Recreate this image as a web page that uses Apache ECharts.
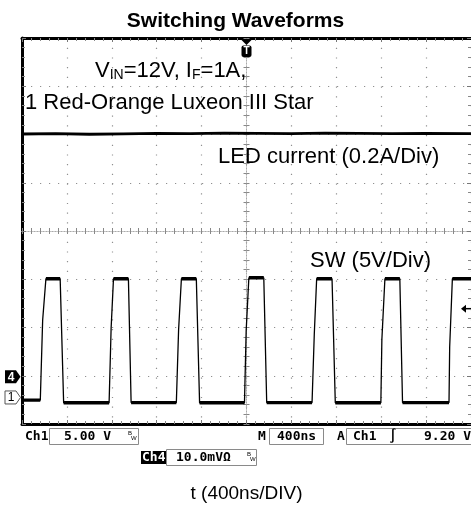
<!DOCTYPE html>
<html><head><meta charset="utf-8">
<script src="https://cdn.jsdelivr.net/npm/echarts@6/dist/echarts.min.js"></script>
<style>html,body{margin:0;padding:0;background:#fff}#c{width:471px;height:508px}</style>
</head><body><div id="c"></div>
<script>
// ---------- data ----------
const timeRangeNs = [-2000, 2000];      // 10 div x 400 ns, trigger at centre
const timePerDivNs = 400;
const divRange = [-4, 4];               // 8 vertical divisions
const ch1VoltsPerDiv = 5;               // SW (5V/Div)
const ch4AmpsPerDiv = 0.2;              // LED current (0.2A/Div)
const ch1GroundDiv = -3.45;             // "1" marker
const ch4GroundDiv = -3.02;             // "4" marker
const triggerLevelV = 9.2;

// SW node pulses (ns)
const swRiseStartNs = [-1837, -1224, -625, -18, 584, 1197, 1804];
const swRiseKneeNs  = [-1816, -1206, -605, -3, 604, 1206, 1810];
const swRiseEndNs   = [-1787, -1185, -580, 21, 625, 1233, 1834];
const swFallStartNs = [-1660, -1052, -447, 154, 762, 1366, null];
const swFallEndNs   = [-1629, -1028, -418, 180, 791, 1390, null];
const swHighV = [12.3, 12.3, 12.3, 12.4, 12.3, 12.3, 12.3];
const swKneeV = [8.0, 7.2, 7.0, 6.9, 6.6, 6.0, 5.2];
const swLowV  = [-0.28, -0.55, -0.53, -0.55, -0.53, -0.55, -0.53]; // level before each pulse

// LED current (A)
const ledTimeNs  = [-2000, -1700, -1400, -1100, -800, -500, -200, 100, 400, 700, 1000, 1300, 1600, 2000];
const ledCurrentA = [1.006, 1.008, 1.005, 1.007, 1.009, 1.008, 1.010, 1.009, 1.008, 1.010, 1.009, 1.008, 1.009, 1.008];

// ---------- build series ----------
const v2div = v => ch1GroundDiv + v / ch1VoltsPerDiv;
const a2div = a => ch4GroundDiv + a / ch4AmpsPerDiv;

const swPts = [[timeRangeNs[0], v2div(swLowV[0])]];
const swFlat = [[timeRangeNs[0], v2div(swLowV[0])]];
for (let i = 0; i < swRiseStartNs.length; i++) {
  swPts.push([swRiseStartNs[i], v2div(swLowV[i])]);
  swFlat.push([swRiseStartNs[i], v2div(swLowV[i])], [swRiseStartNs[i], null]);
  swPts.push([swRiseKneeNs[i], v2div(swKneeV[i])]);
  swPts.push([swRiseEndNs[i], v2div(swHighV[i])]);
  swFlat.push([swRiseEndNs[i], v2div(swHighV[i])]);
  if (swFallStartNs[i] != null) {
    swPts.push([swFallStartNs[i], v2div(swHighV[i])]);
    swFlat.push([swFallStartNs[i], v2div(swHighV[i])], [swFallStartNs[i], null]);
    swPts.push([swFallEndNs[i], v2div(swLowV[i + 1])]);
    swFlat.push([swFallEndNs[i], v2div(swLowV[i + 1])]);
  } else {
    swPts.push([timeRangeNs[1], v2div(swHighV[i])]);
    swFlat.push([timeRangeNs[1], v2div(swHighV[i])]);
  }
}
const ledPts = ledTimeNs.map((t, i) => [t, a2div(ledCurrentA[i])]);

// ---------- chart ----------
const chart = echarts.init(document.getElementById('c'), null, {renderer: 'canvas'});
const FONT = '"Liberation Sans", Arial, sans-serif';
const MONO = '"DejaVu Sans Mono", monospace';
const gridDot = {color: '#909090', width: 1.2};
const hidden = {show: false};

function edgeX(pos) {
  return {
    type: 'value', min: timeRangeNs[0], max: timeRangeNs[1], interval: timePerDivNs,
    position: pos,
    axisLine: {show: true, onZero: false, lineStyle: {color: '#000', width: 3}},
    axisTick: {show: true, inside: true, length: 4, lineStyle: {color: '#777'}},
    minorTick: {show: true, splitNumber: 5, length: 3, lineStyle: {color: '#888'}},
    axisLabel: hidden, splitLine: hidden
  };
}
function edgeY(pos, line) {
  return {
    type: 'value', min: divRange[0], max: divRange[1], interval: 1,
    position: pos,
    axisLine: {show: line, onZero: false, lineStyle: {color: '#000', width: 3}},
    axisTick: {show: true, inside: true, length: 4, lineStyle: {color: '#777'}},
    minorTick: {show: true, splitNumber: 5, length: 3, lineStyle: {color: '#888'}},
    axisLabel: hidden, splitLine: hidden
  };
}
function centreX(inside) {
  return {
    type: 'value', min: timeRangeNs[0], max: timeRangeNs[1], interval: timePerDivNs,
    axisLine: {show: true, onZero: true, onZeroAxisIndex: 0, lineStyle: {color: '#aaa', width: 1, type: [1, 2]}},
    axisTick: {show: true, inside: inside, length: 3, lineStyle: {color: '#888'}},
    minorTick: {show: true, splitNumber: 5, length: 3, lineStyle: {color: '#888'}},
    axisLabel: hidden, splitLine: hidden
  };
}
function centreY(inside) {
  return {
    type: 'value', min: divRange[0], max: divRange[1], interval: 1,
    axisLine: {show: true, onZero: true, onZeroAxisIndex: 0, lineStyle: {color: '#aaa', width: 1, type: [1, 2]}},
    axisTick: {show: true, inside: inside, length: 3, lineStyle: {color: '#888'}},
    minorTick: {show: true, splitNumber: 5, length: 3, lineStyle: {color: '#888'}},
    axisLabel: hidden, splitLine: hidden
  };
}

const x0 = edgeX('bottom');
x0.splitLine = {show: true, lineStyle: Object.assign({type: [1.2, 8.5]}, gridDot)};
x0.name = 't (400ns/DIV)';
x0.nameLocation = 'middle';
x0.nameGap = 60;
x0.nameTextStyle = {fontFamily: FONT, fontSize: 19, color: '#000'};
const y0 = edgeY('left', true);
y0.splitLine = {show: true, lineStyle: Object.assign({type: [1.2, 7.8]}, gridDot)};

chart.setOption({
  animation: false,
  backgroundColor: '#fff',
  title: {
    text: 'Switching Waveforms', left: 'center', top: 6,
    textStyle: {fontFamily: FONT, fontSize: 21, fontWeight: 'bold', color: '#000'}
  },
  grid: {left: 22, top: 38, width: 450, height: 389},
  xAxis: [x0, edgeX('top'), centreX(true), centreX(false)],
  yAxis: [y0, edgeY('right', false), centreY(true), centreY(false)],
  series: [
    {type: 'line', name: 'LED current', data: ledPts, showSymbol: false, xAxisIndex: 0, yAxisIndex: 0,
     lineStyle: {color: '#000', width: 2.8}, z: 5},
    {type: 'line', name: 'SW', data: swPts, showSymbol: false, xAxisIndex: 0, yAxisIndex: 0,
     lineStyle: {color: '#000', width: 1.3}, z: 5},
    {type: 'line', name: 'SW noise band', data: swFlat, showSymbol: false, connectNulls: false,
     xAxisIndex: 0, yAxisIndex: 0, lineStyle: {color: '#000', width: 3.4}, z: 5}
  ]
});

// ---------- annotations ----------
const px = (t, d) => chart.convertToPixel({xAxisIndex: 0, yAxisIndex: 0}, [t, d]);
const trig = px(0, divRange[1]);
const g4 = px(timeRangeNs[0], ch4GroundDiv);
const g1 = px(timeRangeNs[0], ch1GroundDiv);
const tl = px(timeRangeNs[1], v2div(triggerLevelV));
const txt = (x, y, s, o) => Object.assign({type: 'text', x: x, y: y, z: 20,
  style: Object.assign({text: s, fontFamily: FONT, fontSize: 22, fill: '#000', textVerticalAlign: 'middle'}, o || {})});
const box = (x, y, w, h) => ({type: 'rect', z: 18, shape: {x: x, y: y, width: w, height: h},
  style: {fill: 'none', stroke: '#8a8a8a', lineWidth: 1}});
const mono = {fontFamily: MONO, fontSize: 13, fontWeight: 'bold'};

const graphics = [
  // plot annotations
  {type: 'text', x: 95, y: 71, z: 20, style: {
    text: '{a|V}{s|IN}{a|=12V, I}{s|F}{a|=1A,}', textVerticalAlign: 'middle',
    rich: {a: {fontFamily: FONT, fontSize: 22, fill: '#000', verticalAlign: 'bottom', lineHeight: 22},
           s: {fontFamily: FONT, fontSize: 14, fill: '#000', verticalAlign: 'bottom', lineHeight: 10}}}},
  txt(25, 103, '1 Red-Orange Luxeon III Star'),
  txt(218, 157, 'LED current (0.2A/Div)'),
  txt(310, 261, 'SW (5V/Div)'),
  // trigger marker
  {type: 'polygon', z: 20, shape: {points: [[trig[0] - 6, trig[1] + 1], [trig[0] + 6, trig[1] + 1], [trig[0], trig[1] + 7]]}, style: {fill: '#000'}},
  {type: 'rect', z: 20, shape: {x: trig[0] - 5, y: trig[1] + 7.5, width: 10, height: 11.5, r: 2}, style: {fill: '#000'}},
  {type: 'text', z: 21, x: trig[0], y: trig[1] + 13.5, style: {text: 'T', fontFamily: FONT, fontSize: 10, fontWeight: 'bold', fill: '#fff', textAlign: 'center', textVerticalAlign: 'middle'}},
  // channel 4 ground marker
  {type: 'polygon', z: 20, shape: {points: [[5, g4[1] - 6.5], [16, g4[1] - 6.5], [20.5, g4[1]], [16, g4[1] + 6.5], [5, g4[1] + 6.5]]}, style: {fill: '#000'}},
  {type: 'text', z: 21, x: 11, y: g4[1] + 0.5, style: {text: '4', fontFamily: FONT, fontSize: 12, fontWeight: 'bold', fill: '#fff', textAlign: 'center', textVerticalAlign: 'middle'}},
  // channel 1 ground marker
  {type: 'polygon', z: 20, shape: {points: [[5, g1[1] - 6.5], [16, g1[1] - 6.5], [20.5, g1[1]], [16, g1[1] + 6.5], [5, g1[1] + 6.5]]}, style: {fill: '#fff', stroke: '#555', lineWidth: 1}},
  {type: 'text', z: 21, x: 11, y: g1[1] + 0.5, style: {text: '1', fontFamily: FONT, fontSize: 12, fill: '#000', textAlign: 'center', textVerticalAlign: 'middle'}},
  // trigger level arrow (right)
  {type: 'polygon', z: 20, shape: {points: [[461, tl[1]], [466, tl[1] - 4], [466, tl[1] + 4]]}, style: {fill: '#000'}},
  {type: 'line', z: 20, shape: {x1: 465, y1: tl[1], x2: 471, y2: tl[1]}, style: {stroke: '#000', lineWidth: 1.5}},
  // scope readout
  txt(25, 437, 'Ch1', mono),
  box(49.5, 428.5, 89, 16),
  txt(64, 437, '5.00 V', mono),
  txt(128, 433, 'B', {fontFamily: FONT, fontSize: 6}),
  txt(131, 438, 'W', {fontFamily: FONT, fontSize: 6}),
  txt(258, 437, 'M', mono),
  box(269.5, 428.5, 54, 16),
  txt(277, 437, '400ns', mono),
  txt(337, 437, 'A', mono),
  box(346.5, 428.5, 130, 16),
  txt(353, 437, 'Ch1', mono),
  txt(389, 437, '\u222B', mono),
  txt(424, 437, '9.20 V', mono),
  {type: 'rect', z: 18, shape: {x: 141, y: 451, width: 26, height: 13}, style: {fill: '#000'}},
  txt(142, 458, 'Ch4', Object.assign({}, mono, {fill: '#fff'})),
  box(166.5, 449.5, 90, 16),
  txt(176, 458, '10.0mV\u03A9', mono),
  txt(247, 454, 'B', {fontFamily: FONT, fontSize: 6}),
  txt(250, 459, 'W', {fontFamily: FONT, fontSize: 6})
];
chart.setOption({graphic: graphics});
</script>
</body></html>
